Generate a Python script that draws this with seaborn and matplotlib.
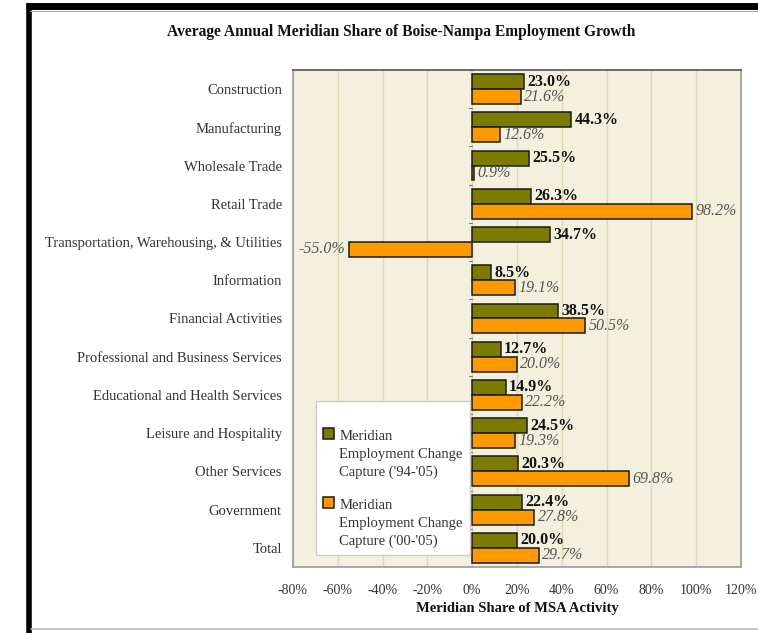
import pandas as pd
import numpy as np
import seaborn as sns
import matplotlib.pyplot as plt
from matplotlib.lines import Line2D
from matplotlib.patches import Patch, Rectangle
from matplotlib.legend_handler import HandlerPatch

categories = ["Construction", "Manufacturing", "Wholesale Trade", "Retail Trade",
              "Transportation, Warehousing, & Utilities", "Information",
              "Financial Activities", "Professional and Business Services",
              "Educational and Health Services", "Leisure and Hospitality",
              "Other Services", "Government", "Total"]
share_94_05 = [23.0, 44.3, 25.5, 26.3, 34.7, 8.5, 38.5, 12.7, 14.9, 24.5, 20.3, 22.4, 20.0]
share_00_05 = [21.6, 12.6, 0.9, 98.2, -55.0, 19.1, 50.5, 20.0, 22.2, 19.3, 69.8, 27.8, 29.7]
series = ["Meridian\nEmployment Change\nCapture ('94-'05)",
          "Meridian\nEmployment Change\nCapture ('00-'05)"]
xticks = [-80, -60, -40, -20, 0, 20, 40, 60, 80, 100, 120]

olive = "#7b7b00"
orange = "#ff9900"

df = pd.DataFrame({
    "category": categories * 2,
    "value": share_94_05 + share_00_05,
    "series": [series[0]] * len(categories) + [series[1]] * len(categories),
})

sns.set_theme(style="white")
plt.rcParams["font.family"] = ["Liberation Serif", "DejaVu Serif"]

fig = plt.figure(figsize=(7.58, 6.33), dpi=100)
ax = fig.add_axes([0.3865, 0.1043, 0.591, 0.7851])
ax.set_facecolor("#f3f1de")

sns.barplot(data=df, x="value", y="category", hue="series", orient="h",
            palette=[olive, orange], saturation=1, width=0.78, edgecolor="#1a1a1a",
            linewidth=1.1, ax=ax, legend=False, zorder=3)

ax.set_xlim(-80, 120)
ax.set_xticks(xticks)
ax.set_xticklabels([f"{t}%" for t in xticks], fontsize=10, color="#333333")
ax.tick_params(axis="x", length=0, pad=12)
ax.tick_params(axis="y", length=0, pad=8, labelsize=10.5, labelcolor="#333333")
for t in xticks:
    ax.axvline(t, color="#dbd9b6", lw=1, zorder=1)
ax.set_ylabel("")
ax.set_xlabel("Meridian Share of MSA Activity", fontsize=10.5, fontweight="bold",
              color="#111111", labelpad=4)
for side in ["left", "right", "bottom"]:
    ax.spines[side].set_color("#9a9a9a")
    ax.spines[side].set_linewidth(1.2)
ax.spines["top"].set_color("#555555")
ax.spines["top"].set_linewidth(1.2)

# category separator ticks on zero line
for i in range(len(categories) + 1):
    ax.plot([-1.2, 0], [i - 0.5, i - 0.5], color="#777777", lw=0.8, zorder=2)
ax.set_ylim(len(categories) - 0.5, -0.5)

# value labels
for bar, v in zip(ax.containers[0], share_94_05):
    y = bar.get_y() + bar.get_height() / 2
    ax.text(v + 1.5, y, f"{v:.1f}%", va="center", ha="left", fontsize=11.5,
            fontweight="bold", color="#111111", zorder=4)
for bar, v in zip(ax.containers[1], share_00_05):
    y = bar.get_y() + bar.get_height() / 2
    if v < 0:
        ax.text(v - 1.5, y, f"{v:.1f}%", va="center", ha="right", fontsize=11.5,
                fontstyle="italic", color="#555555", zorder=4)
    else:
        ax.text(v + 1.5, y, f"{v:.1f}%", va="center", ha="left", fontsize=11.5,
                fontstyle="italic", color="#555555", zorder=4)


def top_square(legend, orig_handle, xdescent, ydescent, width, height, fontsize):
    return Rectangle((-xdescent, -ydescent + 1.45 * fontsize), width, height)


handles = [Patch(facecolor=olive, edgecolor="#1a1a1a", lw=1.1),
           Patch(facecolor=orange, edgecolor="#1a1a1a", lw=1.1)]
leg = ax.legend(handles, series, loc="lower left", bbox_to_anchor=(0.051, 0.024),
                borderaxespad=0, frameon=True, fancybox=False, fontsize=10.5,
                handlelength=0.75, handleheight=0.75, handletextpad=0.35,
                labelspacing=1.4, borderpad=0.5, labelcolor="#333333",
                title=" ", title_fontsize=1,
                handler_map={Patch: HandlerPatch(patch_func=top_square)})
for txt in leg.get_texts():
    txt.set_linespacing(1.45)
leg.get_frame().set_edgecolor("#cccccc")
leg.get_frame().set_facecolor("white")
leg.get_frame().set_alpha(1)
leg.set_zorder(5)

fig.text(0.529, 0.949, "Average Annual Meridian Share of Boise-Nampa Employment Growth",
         ha="center", va="center", fontsize=11.2, fontweight="bold", color="#111111")

# page frame
fig.add_artist(Line2D([0.034, 1.0], [0.991, 0.991], color="black", lw=5,
                      solid_capstyle="butt", transform=fig.transFigure))
fig.add_artist(Line2D([0.038, 0.038], [0.0, 0.995], color="black", lw=4,
                      solid_capstyle="butt", transform=fig.transFigure))
fig.add_artist(Line2D([0.04, 1.0], [0.983, 0.983], color="#aaaaaa", lw=0.8,
                      transform=fig.transFigure))
fig.add_artist(Line2D([0.041, 1.0], [0.007, 0.007], color="#bbbbbb", lw=1.2,
                      transform=fig.transFigure))

fig.savefig("out.png", dpi=100)
